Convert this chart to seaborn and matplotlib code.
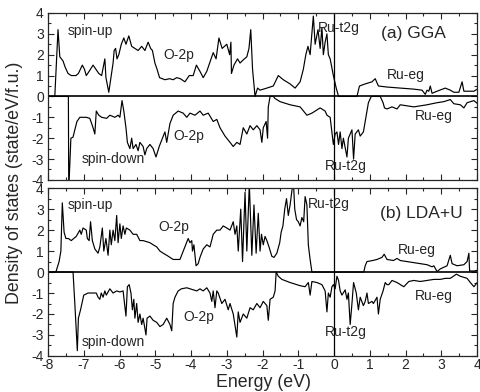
import pandas as pd
import matplotlib
matplotlib.use("Agg")
import matplotlib.pyplot as plt
import seaborn as sns
from matplotlib.ticker import MultipleLocator

# ---- GGA (a) ----
gga_up_e = [-8.0, -7.81, -7.72, -7.67, -7.58, -7.52, -7.44, -7.35, -7.22, -7.15, -7.04, -6.98, -6.93,
            -6.85, -6.74, -6.66, -6.58, -6.50, -6.41, -6.38, -6.30, -6.24, -6.18, -6.15, -6.11, -6.07,
            -6.02, -5.95, -5.88, -5.82, -5.74, -5.66, -5.57, -5.48, -5.38, -5.29, -5.20, -5.13, -5.08,
            -5.01, -4.95, -4.88, -4.73, -4.60, -4.50, -4.40, -4.30, -4.17, -4.05, -3.94, -3.85, -3.75,
            -3.66, -3.56, -3.42, -3.38, -3.30, -3.22, -3.13, -3.00, -2.92, -2.885, -2.87, -2.80, -2.70,
            -2.63, -2.54, -2.44, -2.38, -2.33, -2.28, -2.21, -2.14, -2.07, -1.88, -1.70, -1.56, -1.42,
            -1.23, -1.09, -0.95, -0.86, -0.79, -0.73, -0.67, -0.58, -0.53, -0.45, -0.39, -0.34, -0.30,
            -0.25, -0.20, -0.16, -0.11, -0.02, 0.06, 0.125, 0.64, 0.71, 0.87, 1.06, 1.15, 1.24, 1.48,
            1.85, 2.23, 2.46, 2.55, 2.60, 2.65, 2.69, 2.74, 2.88, 3.11, 3.25, 3.35, 3.49, 3.58, 3.63,
            3.91, 4.05]
gga_up = [0.0, 0.0, 3.2, 1.9, 1.7, 1.4, 1.1, 1.0, 1.0, 1.1, 1.5, 1.3, 1.0,
          1.2, 1.5, 1.3, 1.1, 1.0, 1.8, 0.9, 0.2, 0.9, 1.6, 2.2, 2.3, 1.8,
          2.0, 2.5, 2.8, 2.5, 2.9, 2.4, 2.3, 2.2, 2.4, 2.2, 2.6, 2.3, 2.2,
          1.6, 1.3, 0.9, 0.8, 0.85, 0.8, 0.9, 0.85, 0.7, 1.0, 1.0, 1.5, 1.2,
          0.9, 1.2, 1.9, 2.1, 1.8, 2.8, 2.3, 2.5, 2.0, 2.6, 1.1, 1.5, 1.8,
          1.6, 1.75, 1.9, 2.3, 3.2, 1.3, 0.0, 0.4, 0.3, 0.4, 0.5, 1.0, 0.8,
          0.6, 0.4, 0.7, 1.3, 2.0, 2.4, 2.0, 3.85, 2.5, 3.2, 2.3, 3.3, 2.0,
          2.6, 3.0, 2.0, 1.8, 1.0, 0.4, 0.0, 0.0, 0.5, 0.6, 0.7, 0.85, 0.5, 0.45,
          0.4, 0.35, 0.3, 0.1, 0.3, 0.25, 0.5, 0.15, 0.25, 0.4, 0.3, 0.2, 0.2, 0.7, 0.25,
          0.25, 0.4]

gga_dn_e = [-8.0, -7.43, -7.42, -7.36, -7.30, -7.25, -7.19, -7.11, -6.93, -6.83, -6.74, -6.69, -6.65,
            -6.58, -6.50, -6.36, -6.27, -6.13, -6.04, -5.99, -5.93, -5.88, -5.82, -5.78, -5.71, -5.66,
            -5.62, -5.54, -5.48, -5.43, -5.34, -5.29, -5.24, -5.15, -5.06, -4.98, -4.89, -4.80, -4.73,
            -4.68, -4.59, -4.50, -4.36, -4.22, -4.12, -4.03, -3.89, -3.75, -3.66, -3.52, -3.38, -3.28,
            -3.19, -3.05, -2.91, -2.82, -2.72, -2.63, -2.54, -2.44, -2.35, -2.26, -2.16, -2.07, -2.02,
            -1.98, -1.90, -1.86, -1.84, -1.79, -1.70, -1.65, -1.51, -1.23, -0.95, -0.76, -0.62, -0.39,
            -0.25, -0.20, -0.11, -0.02, 0.03, 0.08, 0.125, 0.17, 0.22, 0.26, 0.36, 0.40, 0.50, 0.545,
            0.59, 0.68, 0.73, 0.82, 0.87, 0.92, 0.96, 1.04, 1.29, 1.37, 1.41, 1.48, 1.62, 1.76, 1.85,
            2.04, 2.23, 2.60, 2.88, 3.07, 3.16, 3.25, 3.35, 3.53, 3.63, 3.72, 3.91, 4.05]
gga_dn = [0.0, 0.0, -4.5, -2.0, -1.95, -1.6, -1.2, -1.0, -1.0, -1.05, -1.5, -1.8, -0.7,
          -0.9, -1.0, -1.05, -0.9, -1.0, -0.9, -1.0, -0.2, -0.7, -1.5, -2.2, -2.5, -2.0,
          -2.5, -2.3, -2.6, -2.2, -2.4, -2.8, -2.5, -2.3, -2.5, -2.9, -2.4, -2.0, -1.7,
          -2.2, -1.3, -0.9, -0.7, -0.8, -1.0, -0.8, -0.9, -0.7, -0.9, -0.8, -1.2, -1.1,
          -1.5, -1.9, -2.2, -2.4, -2.2, -2.3, -1.5, -1.8, -1.4, -1.6, -1.4, -1.6, -2.2,
          -1.5, -1.2, -2.0, -0.5, 0.0, 0.0, -0.1, -0.25, -0.4, -0.5, -0.9, -0.8, -0.55,
          -0.7, -0.9, -1.0, -2.3, -1.8, -1.7, -2.3, -1.7, -2.5, -2.0, -2.9, -2.0, -1.6, -3.0,
          -1.8, -1.6, -1.9, -1.7, -1.2, -0.7, -0.3, 0.0, 0.0, -0.3, -0.55, -0.6, -0.5, -0.6, -0.4,
          -0.45, -0.5, -0.4, -0.3, -0.25, -0.2, -0.15, -0.35, -0.4, -0.55, -0.3, -0.2, -0.4]

# ---- LDA+U (b) ----
lda_up_e = [-8.0, -7.78, -7.69, -7.64, -7.60, -7.55, -7.50, -7.43, -7.35, -7.21, -7.11, -7.07, -7.02,
            -6.93, -6.90, -6.85, -6.81, -6.76, -6.69, -6.60, -6.55, -6.48, -6.44, -6.38, -6.32, -6.27,
            -6.23, -6.18, -6.13, -6.08, -6.04, -5.99, -5.95, -5.90, -5.85, -5.81, -5.71, -5.62, -5.52,
            -5.43, -5.34, -5.24, -5.15, -5.06, -4.96, -4.87, -4.78, -4.68, -4.59, -4.50, -4.31, -4.24,
            -4.17, -4.08, -4.03, -3.98, -3.96, -3.92, -3.86, -3.80, -3.75, -3.66, -3.56, -3.47, -3.38,
            -3.28, -3.19, -3.10, -3.00, -2.91, -2.82, -2.77, -2.72, -2.68, -2.61, -2.56, -2.49, -2.44,
            -2.37, -2.30, -2.24, -2.18, -2.12, -2.07, -2.03, -1.98, -1.93, -1.88, -1.82, -1.74, -1.68,
            -1.60, -1.52, -1.48, -1.43, -1.38, -1.33, -1.28, -1.23, -1.17, -1.14, -1.10, -1.05, -1.00,
            -0.95, -0.90, -0.85, -0.81, -0.76, -0.72, -0.67, -0.62, 0.83, 0.87, 0.92, 1.08, 1.20, 1.34,
            1.40, 1.48, 1.66, 1.76, 1.85, 2.04, 2.41, 2.60, 2.74, 2.79, 2.88, 2.97, 3.16, 3.25, 3.30,
            3.44, 3.63, 3.72, 3.77, 3.79, 3.91, 4.05]
lda_up = [0.0, 0.0, 0.5, 1.0, 3.3, 1.9, 1.6, 1.6, 1.5, 1.7, 2.0, 1.8, 2.1,
          2.0, 1.6, 1.5, 2.4, 1.5, 1.1, 0.9, 1.2, 2.1, 1.0, 1.6, 0.8, 2.0,
          1.3, 2.0, 1.5, 2.7, 1.4, 2.3, 1.6, 2.2, 1.8, 2.1, 2.0, 1.8, 1.8,
          1.5, 1.5, 1.45, 1.4, 1.3, 1.2, 1.0, 0.9, 0.8, 0.7, 0.6, 0.6, 0.9,
          1.2, 1.6, 1.4, 1.5, 1.0, 1.3, 0.3, 0.4, 0.7, 1.1, 1.3, 1.2, 1.8,
          2.0, 2.0, 2.2, 2.1, 2.0, 2.4, 1.8, 2.2, 1.0, 3.0, 0.5, 3.8, 1.0,
          4.2, 0.8, 3.2, 0.9, 2.8, 1.0, 1.8, 1.3, 1.7, 1.5, 1.2, 0.75, 0.7,
          0.9, 1.4, 1.9, 2.2, 3.0, 3.5, 2.7, 3.2, 4.0, 4.4, 3.0, 2.5, 2.4,
          2.2, 2.6, 2.4, 3.6, 3.2, 1.3, 0.6, 0.0, 0.0, 0.3, 0.5, 0.55, 0.6, 0.7,
          0.85, 0.6, 0.55, 0.65, 0.55, 0.5, 0.4, 0.35, 0.25, 0.3, 0.02, 0.15, 0.3, 0.8, 0.4,
          0.3, 0.35, 0.5, 0.9, 0.05, 0.05, 0.1]

lda_dn_e = [-8.0, -7.30, -7.25, -7.18, -7.15, -7.09, -7.00, -6.88, -6.65, -6.60, -6.55, -6.51, -6.46,
            -6.41, -6.37, -6.27, -6.18, -6.08, -5.99, -5.90, -5.82, -5.78, -5.73, -5.68, -5.64, -5.60,
            -5.57, -5.52, -5.48, -5.43, -5.38, -5.34, -5.26, -5.23, -5.15, -5.06, -4.96, -4.87, -4.78,
            -4.68, -4.59, -4.54, -4.50, -4.45, -4.36, -4.27, -4.12, -4.03, -3.94, -3.84, -3.75, -3.66,
            -3.56, -3.47, -3.42, -3.38, -3.33, -3.28, -3.24, -3.14, -3.05, -2.96, -2.91, -2.82, -2.72,
            -2.68, -2.63, -2.54, -2.44, -2.35, -2.26, -2.16, -2.07, -1.98, -1.88, -1.84, -1.79, -1.70,
            -1.65, -1.62, -1.56, -1.46, -1.23, -0.95, -0.81, -0.72, -0.67, -0.62, -0.48, -0.34, -0.25,
            -0.20, -0.16, -0.11, -0.06, -0.02, 0.03, 0.08, 0.125, 0.17, 0.22, 0.31, 0.36, 0.40, 0.45,
            0.50, 0.545, 0.62, 0.68, 0.73, 0.82, 0.87, 0.92, 0.96, 1.06, 1.10, 1.20, 1.24, 1.29, 1.37,
            1.43, 1.48, 1.53, 1.62, 1.76, 1.95, 2.09, 2.23, 2.41, 2.60, 2.79, 2.97, 3.11, 3.25, 3.42,
            3.53, 3.72, 3.81, 3.91, 4.05]
lda_dn = [0.0, 0.0, -1.5, -3.75, -2.2, -1.8, -1.1, -1.0, -1.0, -1.2, -1.3, -1.0, -1.2,
          -0.9, -1.1, -0.8, -1.0, -0.9, -0.95, -0.9, -2.1, -0.7, -0.6, -1.0, -1.8, -1.3,
          -2.2, -1.5, -2.4, -2.0, -2.5, -2.2, -3.0, -2.2, -2.1, -2.3, -2.4, -2.6, -2.5,
          -2.2, -2.5, -2.8, -1.5, -1.2, -0.9, -0.8, -0.75, -0.8, -0.85, -0.9, -0.8, -0.9,
          -0.75, -1.0, -1.4, -0.9, -1.7, -0.9, -1.0, -1.5, -1.3, -1.8, -1.5, -2.0, -3.1,
          -1.9, -2.4, -2.0, -2.2, -1.7, -1.8, -1.5, -1.7, -1.4, -1.6, -2.3, -1.3, -1.2,
          -0.9, 0.0, -0.2, -0.35, -0.5, -0.65, -0.7, -0.5, -1.1, -0.45, -0.5, -0.6, -0.9,
          -1.9, -1.0, -1.2, -0.7, -0.6, -0.8, -0.2, -0.4, -0.9, -1.1, -0.85, -1.3, -1.0, -2.5,
          -1.5, -0.5, -1.0, -1.8, -1.2, -1.6, -1.4, -1.0, -1.5, -1.4, -1.5, -1.2, -2.0, -1.3, -0.9,
          -0.5, -0.6, -0.6, -0.4, -0.5, -0.7, -0.45, -0.4, -0.45, -0.4, -0.35, -0.35, -0.3, -0.3, -0.1,
          -0.2, -0.3, -0.5, -0.7, -0.4]

xticks = [-8, -7, -6, -5, -4, -3, -2, -1, 0, 1, 2, 3, 4]
yticks = [-4, -3, -2, -1, 0, 1, 2, 3, 4]

# text labels: (x, y, text)
labels_a = [(-7.45, 3.15, "spin-up"), (-4.78, 2.0, "O-2p"), (-0.45, 3.3, "Ru-t2g"),
            (1.49, 1.05, "Ru-eg"), (2.25, -0.95, "Ru-eg"), (-4.5, -1.9, "O-2p"),
            (-7.05, -3.0, "spin-down"), (-0.25, -3.35, "Ru-t2g")]
labels_b = [(-7.45, 3.2, "spin-up"), (-4.92, 2.15, "O-2p"), (-0.73, 3.25, "Ru-t2g"),
            (1.77, 1.05, "Ru-eg"), (2.25, -1.15, "Ru-eg"), (-4.22, -2.15, "O-2p"),
            (-7.05, -3.35, "spin-down"), (-0.25, -2.85, "Ru-t2g")]

sns.set_style("ticks")
plt.rcParams['font.family'] = ['Liberation Sans', 'DejaVu Sans']
plt.rcParams['axes.unicode_minus'] = False

fig = plt.figure(figsize=(4.8, 3.92), dpi=100)
ax_a = fig.add_axes([0.1, 0.541, 0.894, 0.426])
ax_b = fig.add_axes([0.1, 0.092, 0.894, 0.428])


def draw_panel(ax, up_e, up, dn_e, dn, labels, title, title_pos):
    up_df = pd.DataFrame({'energy': up_e, 'dos': up})
    dn_df = pd.DataFrame({'energy': dn_e, 'dos': dn})
    sns.lineplot(data=up_df, x='energy', y='dos', ax=ax, color='black', lw=0.85, estimator=None)
    sns.lineplot(data=dn_df, x='energy', y='dos', ax=ax, color='black', lw=0.85, estimator=None)
    ax.axhline(0, color='black', lw=1.2)
    ax.axvline(0, color='black', lw=0.9)
    ax.set_xlim(-8, 4)
    ax.set_ylim(-4, 4)
    ax.set_xticks(xticks)
    ax.set_yticks(yticks)
    ax.xaxis.set_minor_locator(MultipleLocator(0.5))
    ax.yaxis.set_minor_locator(MultipleLocator(0.5))
    ax.tick_params(which='both', direction='in', top=True, right=True, labelsize=10)
    ax.tick_params(axis='x', pad=1.5)
    ax.tick_params(axis='y', pad=3)
    ax.tick_params(which='major', length=4.5, width=0.8)
    ax.tick_params(which='minor', length=2.5, width=0.8)
    for s in ax.spines.values():
        s.set_linewidth(0.9)
    ax.set_xlabel('')
    ax.set_ylabel('')
    for x, y, t in labels:
        ax.text(x, y, t, fontsize=10, ha='left', va='center')
    ax.text(title_pos[0], title_pos[1], title, fontsize=12.5, ha='left', va='center')


draw_panel(ax_a, gga_up_e, gga_up, gga_dn_e, gga_dn, labels_a, "(a) GGA", (1.32, 3.0))
draw_panel(ax_b, lda_up_e, lda_up, lda_dn_e, lda_dn, labels_b, "(b) LDA+U", (1.29, 2.8))
ax_a.tick_params(labelbottom=False)

fig.text(0.031, 0.533, "Density of states (state/eV/f.u.)", rotation=90, fontsize=12.8,
         ha='center', va='center')
fig.text(0.548, 0.024, "Energy (eV)", fontsize=12.8, ha='center', va='center')

fig.savefig("out.png", dpi=100)
